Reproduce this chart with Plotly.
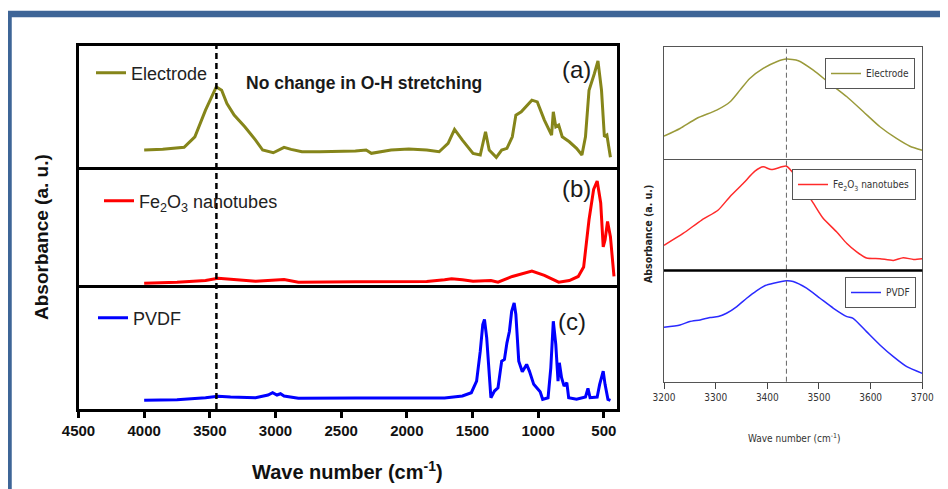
import plotly.graph_objects as go

# ---------------- data (arbitrary absorbance units) ----------------
# (a) Electrode, full range
elec_wn = [4000, 3859, 3696, 3614, 3533, 3451, 3410, 3370, 3315, 3234, 3152, 3098, 3017, 2935, 2881,
           2799, 2664, 2392, 2310, 2270, 2120, 1985, 1849, 1754, 1686, 1637, 1577, 1496, 1441, 1414,
           1401, 1373, 1319, 1278, 1238, 1197, 1170, 1129, 1048, 1007, 953, 898, 885, 866, 844,
           817, 763, 708, 667, 640, 613, 572, 545, 518, 496, 477, 450]
elec_abs = [0.100, 0.107, 0.127, 0.233, 0.500, 0.733, 0.700, 0.567, 0.450, 0.333, 0.200, 0.100, 0.073, 0.127, 0.107,
            0.083, 0.083, 0.090, 0.100, 0.067, 0.100, 0.110, 0.100, 0.083, 0.167, 0.307, 0.200, 0.067, 0.050, 0.200,
            0.283, 0.100, 0.027, 0.100, 0.117, 0.233, 0.450, 0.483, 0.600, 0.583, 0.400, 0.250, 0.483, 0.333, 0.350,
            0.233, 0.183, 0.117, 0.050, 0.233, 0.700, 0.867, 0.993, 0.700, 0.233, 0.250, 0.027]

# (b) Fe2O3 nanotubes, full range
fe_wn = [4000, 3750, 3533, 3438, 3342, 3152, 2935, 2826, 2392, 1849, 1713, 1659, 1577, 1496, 1360, 1306,
         1197, 1048, 953, 844, 763, 695, 654, 613, 578, 551, 524, 505, 491, 472, 450, 423]
fe_abs = [0.023, 0.033, 0.050, 0.073, 0.063, 0.043, 0.060, 0.033, 0.037, 0.040, 0.057, 0.067, 0.057, 0.043, 0.050, 0.033,
          0.090, 0.143, 0.100, 0.033, 0.050, 0.090, 0.183, 0.650, 0.950, 1.033, 0.817, 0.383, 0.450, 0.633, 0.483, 0.090]

# (c) PVDF, full range
pvdf_wn = [4000, 3750, 3533, 3438, 3342, 3152, 3057, 3022, 2989, 2962, 2935, 2826, 2392, 1985, 1849, 1713,
           1577, 1509, 1469, 1441, 1422, 1409, 1392, 1373, 1360, 1333, 1306, 1278, 1257, 1238, 1219, 1202,
           1183, 1170, 1148, 1121, 1088, 1067, 1034, 985, 966, 925, 904, 885, 866, 849, 839, 822, 803,
           782, 768, 708, 640, 621, 605, 551, 532, 505, 491, 469, 450]
pvdf_abs = [0.007, 0.013, 0.033, 0.047, 0.040, 0.033, 0.060, 0.083, 0.060, 0.073, 0.050, 0.027, 0.030, 0.033, 0.027, 0.030,
            0.050, 0.083, 0.200, 0.500, 0.767, 0.817, 0.633, 0.200, 0.033, 0.100, 0.133, 0.400, 0.417, 0.583, 0.700, 0.900,
            0.983, 0.867, 0.400, 0.293, 0.367, 0.300, 0.167, 0.093, 0.017, 0.033, 0.333, 0.800, 0.567, 0.200, 0.383, 0.233, 0.150,
            0.183, 0.033, 0.017, 0.040, 0.127, 0.033, 0.040, 0.167, 0.300, 0.167, 0.017, 0.007]

# Inset (3200-3700 cm-1)
ins_elec_wn = [3200, 3231, 3263, 3302, 3328, 3347, 3366, 3392, 3418, 3437, 3460, 3489, 3521, 3554, 3586, 3618, 3650, 3676, 3700]
ins_elec_abs = [0.273, 0.350, 0.450, 0.533, 0.617, 0.733, 0.850, 0.950, 1.017, 1.043, 1.027, 0.933, 0.800, 0.667, 0.517, 0.367, 0.250, 0.173, 0.133]

ins_fe_wn = [3200, 3237, 3273, 3305, 3328, 3354, 3376, 3392, 3408, 3437, 3450, 3470, 3489, 3508, 3534, 3554, 3573, 3592, 3618, 3644, 3663, 3683, 3700]
ins_fe_abs = [0.283, 0.400, 0.533, 0.633, 0.767, 0.900, 1.017, 1.060, 1.033, 1.067, 1.000, 0.850, 0.700, 0.550, 0.417, 0.300, 0.217, 0.157, 0.150, 0.133, 0.160, 0.143, 0.150]

ins_pvdf_wn = [3200, 3231, 3250, 3270, 3289, 3305, 3321, 3341, 3360, 3379, 3396, 3412, 3437, 3450, 3476, 3502, 3528, 3554, 3566, 3592, 3618, 3644, 3670, 3700]
ins_pvdf_abs = [0.643, 0.667, 0.700, 0.717, 0.740, 0.750, 0.783, 0.850, 0.933, 1.007, 1.060, 1.083, 1.107, 1.100, 1.033, 0.933, 0.833, 0.750, 0.733, 0.600, 0.467, 0.350, 0.250, 0.183]

main_ticks = [4500, 4000, 3500, 3000, 2500, 2000, 1500, 1000, 500]
inset_ticks = [3200, 3300, 3400, 3500, 3600, 3700]
oh_main = 3450
oh_inset = 3437

# ---------------- geometry helpers (screen px -> paper, page body has 8px margin) ----------------
W, H = 948, 489
OFF = 8
def px(x):
    return (x - OFF) / W
def py(y):
    return 1 - (y - OFF) / H

ARIAL = "Liberation Sans, Arial, sans-serif"
NARROW = "Liberation Sans Narrow, DejaVu Sans Condensed, Arial Narrow, sans-serif"
OLIVE, RED, BLUE = "#85851a", "#ff0000", "#0000ff"

fig = go.Figure()

fig.add_trace(go.Scatter(x=elec_wn, y=elec_abs, mode="lines", name="Electrode",
                         line=dict(color=OLIVE, width=3), xaxis="x", yaxis="y", legend="legend"))
fig.add_trace(go.Scatter(x=fe_wn, y=fe_abs, mode="lines", name="Fe<sub>2</sub>O<sub>3</sub> nanotubes",
                         line=dict(color=RED, width=3), xaxis="x2", yaxis="y2", legend="legend2"))
fig.add_trace(go.Scatter(x=pvdf_wn, y=pvdf_abs, mode="lines", name="PVDF",
                         line=dict(color=BLUE, width=3), xaxis="x3", yaxis="y3", legend="legend3"))
fig.add_trace(go.Scatter(x=ins_elec_wn, y=ins_elec_abs, mode="lines", name="Electrode",
                         line=dict(color="#9a9a3a", width=1.5, shape="spline", smoothing=0.6),
                         xaxis="x4", yaxis="y4", legend="legend4"))
fig.add_trace(go.Scatter(x=ins_fe_wn, y=ins_fe_abs, mode="lines", name="Fe<sub>2</sub>O<sub>3</sub> nanotubes",
                         line=dict(color="#ff2a2a", width=1.5, shape="spline", smoothing=0.6),
                         xaxis="x5", yaxis="y5", legend="legend5"))
fig.add_trace(go.Scatter(x=ins_pvdf_wn, y=ins_pvdf_abs, mode="lines", name="PVDF",
                         line=dict(color="#2a2aff", width=1.5, shape="spline", smoothing=0.6),
                         xaxis="x6", yaxis="y6", legend="legend6"))

# ---------------- axes ----------------
LX = [px(78.5), px(617)]
RX = [px(664), px(922.3)]
left_rows = [(46, 170), (170, 288), (288, 409)]
right_rows = [(46.7, 159.5), (159.5, 270.5), (270.5, 381.7)]
left_yr = [[-0.10, 1.143], [-0.024, 1.142], [-0.08, 1.133]]
right_yr = [[0.04, 1.167], [0.033, 1.133], [0.10, 1.21]]

lay = {}
for i in range(3):
    k = "" if i == 0 else str(i + 1)
    xa = dict(range=[4500, 400], domain=LX, anchor="y" + k, showgrid=False, zeroline=False,
              showline=True, linecolor="black", linewidth=2.5, automargin=False)
    if i == 2:
        xa.update(side="bottom", mirror=True, ticks="outside", ticklen=6, tickwidth=2.5, tickcolor="black",
                  tickvals=main_ticks, showticklabels=True,
                  tickfont=dict(family=ARIAL, size=15, color="#111111", weight="bold"))
    else:
        # only the top frame line: separators are drawn once (not doubled)
        xa.update(side="top", mirror=False, ticks="", showticklabels=False)
    lay["xaxis" + k] = xa
    top, bot = left_rows[i]
    lay["yaxis" + k] = dict(domain=[py(bot), py(top)], range=left_yr[i], anchor="x" + k,
                            showgrid=False, zeroline=False, showline=True, mirror=True, automargin=False,
                            linecolor="black", linewidth=2.5, ticks="", showticklabels=False)
for j in range(3):
    n = str(j + 4)
    xa = dict(range=[3200, 3700], domain=RX, anchor="y" + n, showgrid=False, zeroline=False,
              showline=True, linecolor="#555555", linewidth=1, automargin=False)
    if j == 2:
        xa.update(side="bottom", mirror=True, ticks="outside", ticklen=6, tickwidth=1, tickcolor="#444444",
                  tickvals=inset_ticks, showticklabels=True,
                  tickfont=dict(family=NARROW, size=10, color="#333333"))
    else:
        xa.update(side="top", mirror=False, ticks="", showticklabels=False)
    lay["xaxis" + n] = xa
    top, bot = right_rows[j]
    lay["yaxis" + n] = dict(domain=[py(bot), py(top)], range=right_yr[j], anchor="x" + n,
                            showgrid=False, zeroline=False, showline=True, mirror=True, automargin=False,
                            linecolor="#555555", linewidth=1, ticks="", showticklabels=False)

# ---------------- legends ----------------
big_leg = dict(font=dict(family=ARIAL, size=18, color="#222222"), bgcolor="rgba(0,0,0,0)",
               borderwidth=0, xanchor="left", yanchor="middle")
lay["legend"] = dict(big_leg, x=px(91), y=py(73))
lay["legend2"] = dict(big_leg, x=px(99), y=py(201))
lay["legend3"] = dict(big_leg, x=px(93), y=py(318))
small_leg = dict(font=dict(family=NARROW, size=10, color="#333333"), bgcolor="white",
                 bordercolor="#555555", borderwidth=1, xanchor="right", yanchor="top")
lay["legend4"] = dict(small_leg, x=px(915), y=py(58))
lay["legend5"] = dict(small_leg, x=px(916), y=py(169))
lay["legend6"] = dict(small_leg, x=px(916), y=py(277))

# ---------------- shapes ----------------
shapes = [
    # dashed O-H marker lines
    dict(type="line", xref="x3", yref="paper", x0=oh_main, x1=oh_main, y0=py(409), y1=py(43),
         line=dict(color="black", width=2.5, dash="6px,4px")),
    dict(type="line", xref="x6", yref="paper", x0=oh_inset, x1=oh_inset, y0=py(381.7), y1=py(46.7),
         line=dict(color="#666666", width=1, dash="5px,3px")),
    # thick separator in inset (Fe2O3 / PVDF)
    dict(type="line", xref="paper", yref="paper", x0=RX[0], x1=RX[1], y0=py(270.5), y1=py(270.5),
         line=dict(color="black", width=2.5)),
    # blue outer frame (top and left edges visible)
    dict(type="path", xref="paper", yref="paper",
         path=f"M {px(8.5)},{py(600)} L {px(8.5)},{py(14)} L {px(1000)},{py(14)}",
         line=dict(color="#3e6597", width=6.5), layer="above"),
]

# ---------------- annotations ----------------
ann = [
    dict(text="(a)", x=px(576), y=py(70), font=dict(family=ARIAL, size=24, color="#1a1a1a")),
    dict(text="(b)", x=px(576), y=py(189), font=dict(family=ARIAL, size=24, color="#1a1a1a")),
    dict(text="(c)", x=px(572), y=py(321), font=dict(family=ARIAL, size=24, color="#1a1a1a")),
    dict(text="<b>No change in O-H stretching</b>", x=px(364), y=py(83),
         font=dict(family=ARIAL, size=17.5, color="#1a1a1a")),
    dict(text="<b>Absorbance (a. u.)</b>", x=px(41), y=py(237), textangle=-90,
         font=dict(family=ARIAL, size=19, color="#111111")),
    dict(text="<b>Wave number (cm<sup>-1</sup>)</b>", x=px(347), y=py(470),
         font=dict(family=ARIAL, size=20, color="#111111")),
    dict(text="<b>Absorbance (a. u.)</b>", x=px(648), y=py(234), textangle=-90,
         font=dict(family=NARROW, size=10.5, color="#222222")),
    dict(text="Wave number (cm<sup>-1</sup>)", x=px(794), y=py(438),
         font=dict(family=NARROW, size=10, color="#333333")),
]
for a in ann:
    a.update(xref="paper", yref="paper", showarrow=False, xanchor="center", yanchor="middle")

fig.update_layout(width=W, height=H, autosize=False,
                  margin=dict(l=0, r=0, t=0, b=0, pad=0, autoexpand=False),
                  paper_bgcolor="white", plot_bgcolor="white",
                  shapes=shapes, annotations=ann, showlegend=True, **lay)

fig.write_html("out.html")
